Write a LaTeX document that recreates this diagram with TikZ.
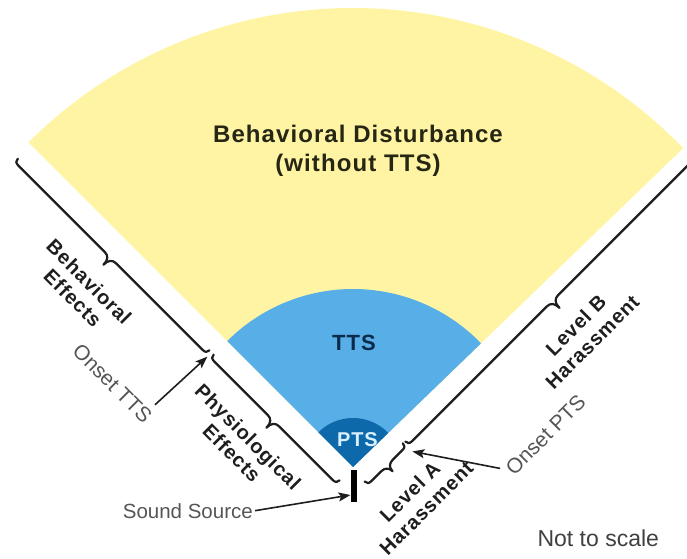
\documentclass[tikz,border=0pt]{standalone}
\usepackage{fontspec}
\setmainfont{Liberation Sans}
\newfontfamily\spacedfont[LetterSpace=4.5]{Liberation Sans}
\usetikzlibrary{calc,arrows.meta}

\definecolor{yel}{HTML}{FFF4A3}
\definecolor{ttsblue}{HTML}{58AEE6}
\definecolor{ptsblue}{HTML}{0E69AB}
\definecolor{navy}{HTML}{0B2B4C}
\definecolor{ptstxt}{HTML}{D8F0FF}
\definecolor{darkolive}{HTML}{262614}
\definecolor{labelgray}{HTML}{555555}
\definecolor{inkc}{HTML}{1E1E1E}

% curly brace in local coordinates: t1, t2, end offset d0, tip height beyond line
\newcommand{\curlybrace}[4]{%
  \pgfmathsetmacro{\bmid}{(#1+#2)/2}%
  \pgfmathsetmacro{\bline}{#3+4.5}%
  \pgfmathsetmacro{\btip}{\bline+#4}%
  \draw[bracestyle] (#1,#3) .. controls (#1,{#3+3}) and ({#1+1.5},\bline) .. ({#1+5},\bline)
     -- ({\bmid-8},\bline) .. controls ({\bmid-3},\bline) and (\bmid,{\bline+3}) .. (\bmid,\btip)
     .. controls (\bmid,{\bline+3}) and ({\bmid+3},\bline) .. ({\bmid+8},\bline)
     -- ({#2-5},\bline) .. controls ({#2-1.5},\bline) and (#2,{#3+3}) .. (#2,#3);%
}

\tikzset{
  bracestyle/.style={draw=inkc, line width=2.2pt, line cap=round, line join=round},
  arrowline/.style={draw=inkc, line width=1.6pt, -{Stealth[length=12pt,width=9pt,inset=2.5pt]}},
  bdtext/.style={font=\spacedfont\bfseries\fontsize{24}{28}\selectfont, text=darkolive, inner sep=0pt},
  ttstext/.style={font=\spacedfont\bfseries\fontsize{22}{26}\selectfont, text=navy, inner sep=0pt},
  ptstext/.style={font=\spacedfont\bfseries\fontsize{20}{24}\selectfont, text=ptstxt, inner sep=0pt},
  lab/.style={font=\spacedfont\bfseries\fontsize{20}{23}\selectfont, text=inkc, align=center, inner sep=0pt},
  onset/.style={font=\fontsize{21}{24}\selectfont, text=labelgray, inner sep=0pt},
  sstext/.style={font=\fontsize{20.5}{24}\selectfont, text=labelgray, inner sep=2pt},
  ntstext/.style={font=\fontsize{23}{26}\selectfont, text=inkc!85, inner sep=0pt},
}

\begin{document}
\begin{tikzpicture}[x=1pt,y=1pt]
\useasboundingbox (0,0) rectangle (687,558);
\clip (0,0) rectangle (687,558);
\coordinate (A) at (353,91);

% sectors
\fill[yel] (A) -- ($(A)+(44:459)$) arc[start angle=44, end angle=135, radius=459] -- cycle;
\fill[ttsblue] (A) -- ($(A)+(44:178)$) arc[start angle=44, end angle=135, radius=178] -- cycle;
\fill[ptsblue] (A) -- ($(A)+(44:49)$) arc[start angle=44, end angle=135, radius=49] -- cycle;

% sound source bar
\node[fill=black, inner sep=0pt, minimum width=6pt, minimum height=32pt] (bar) at (353.7,72) {};

% left side braces (local x along edge, local y outward)
\begin{scope}[shift={(A)}, rotate=135]
  \curlybrace{184}{455}{19}{10}
  \curlybrace{0}{178}{19}{10}
  \coordinate (jtts) at (181,25);
  \coordinate (ttsfrom) at (184,96);
\end{scope}

% right side braces
\begin{scope}[shift={(A)}, rotate=45, yscale=-1]
  \curlybrace{-2}{52}{18.5}{8}
  \curlybrace{55}{462}{19}{10}
  \coordinate (jpts) at (53,31);
  \coordinate (ptsfrom) at (103,105);
\end{scope}

% texts
\node[bdtext, anchor=base] (bd1) at (358,416) {Behavioral Disturbance};
\node[bdtext, anchor=base] (bd2) at (358,387) {(without TTS)};
\node[ttstext, anchor=base] (tts) at (354,208) {TTS};
\node[ptstext, anchor=base] (pts) at (357.5,112) {PTS};
\node[lab, rotate=-45] (be) at (81,268) {Behavioral\\Effects};
\node[lab, rotate=-45] (pe) at (240,113) {Physiological\\Effects};
\node[lab, rotate=45] (lb) at (584,224.5) {Level B\\Harassment};
\node[lab, rotate=45] (la) at (418,58) {Level A\\Harassment};
\node[onset, rotate=-45] (otts) at (112.5,174.5) {Onset TTS};
\node[onset, rotate=45] (opts) at (545.5,123) {Onset PTS};
\node[sstext, anchor=base east] (ss) at (255,40) {Sound Source};
\node[ntstext, anchor=base] (nts) at (598.3,11.3) {Not to scale};

% arrows
\coordinate (sstip) at ([yshift=-9pt]bar.west);
\draw[arrowline] (ttsfrom) -- (jtts);
\draw[arrowline] (ptsfrom) -- (jpts);
\draw[arrowline] (ss.east) -- (sstip);
\end{tikzpicture}
\end{document}
